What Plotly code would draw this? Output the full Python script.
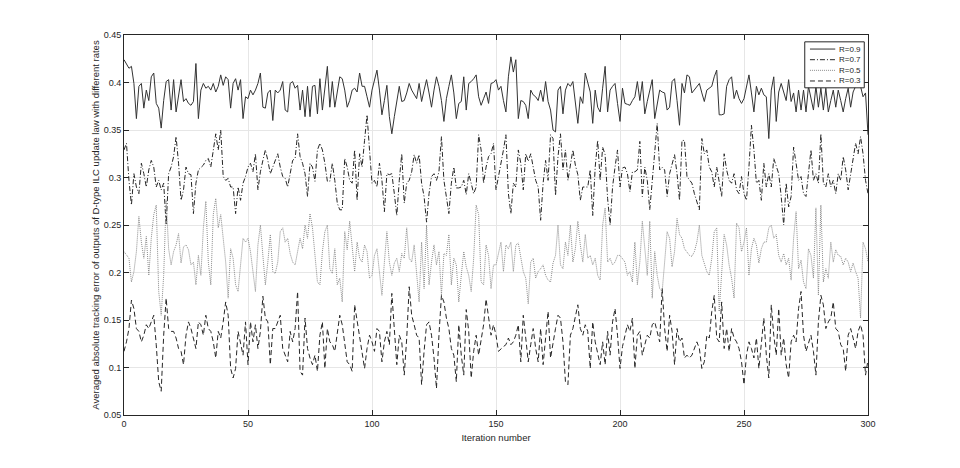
import plotly.graph_objects as go

# values, iterations 0..300
r09 = [
    0.424, 0.420, 0.415, 0.417, 0.399, 0.362, 0.396, 0.399, 0.373, 0.392,
    0.381, 0.406, 0.410, 0.378, 0.373, 0.352, 0.381, 0.401, 0.403, 0.371,
    0.403, 0.369, 0.385, 0.403, 0.380, 0.383, 0.378, 0.376, 0.380, 0.420,
    0.362, 0.392, 0.399, 0.394, 0.396, 0.392, 0.399, 0.390, 0.396, 0.408,
    0.397, 0.406, 0.403, 0.373, 0.399, 0.404, 0.392, 0.403, 0.362, 0.385,
    0.383, 0.392, 0.387, 0.392, 0.399, 0.410, 0.374, 0.373, 0.389, 0.392,
    0.360, 0.392, 0.389, 0.392, 0.401, 0.371, 0.369, 0.399, 0.401, 0.394,
    0.397, 0.371, 0.392, 0.364, 0.396, 0.364, 0.396, 0.397, 0.367, 0.404,
    0.371, 0.392, 0.417, 0.374, 0.401, 0.374, 0.392, 0.406, 0.404, 0.392,
    0.374, 0.381, 0.392, 0.394, 0.390, 0.410, 0.396, 0.396, 0.385, 0.374,
    0.392, 0.403, 0.413, 0.392, 0.366, 0.381, 0.397, 0.364, 0.346, 0.364,
    0.378, 0.396, 0.380, 0.381, 0.389, 0.399, 0.392, 0.387, 0.383, 0.399,
    0.380, 0.392, 0.403, 0.389, 0.374, 0.392, 0.406, 0.396, 0.381, 0.359,
    0.383, 0.396, 0.408, 0.389, 0.362, 0.378, 0.380, 0.406, 0.371, 0.399,
    0.401, 0.404, 0.408, 0.385, 0.376, 0.383, 0.390, 0.378, 0.399, 0.400,
    0.403, 0.392, 0.396, 0.381, 0.369, 0.406, 0.427, 0.411, 0.424, 0.362,
    0.381, 0.380, 0.376, 0.362, 0.392, 0.387, 0.385, 0.381, 0.392, 0.380,
    0.401, 0.380, 0.371, 0.350, 0.348, 0.392, 0.396, 0.367, 0.392, 0.399,
    0.396, 0.401, 0.378, 0.357, 0.385, 0.378, 0.410, 0.399, 0.390, 0.357,
    0.392, 0.374, 0.369, 0.394, 0.417, 0.369, 0.392, 0.396, 0.399, 0.378,
    0.359, 0.394, 0.378, 0.377, 0.376, 0.381, 0.385, 0.401, 0.381, 0.401,
    0.367, 0.380, 0.392, 0.403, 0.362, 0.378, 0.392, 0.390, 0.389, 0.371,
    0.374, 0.401, 0.404, 0.381, 0.355, 0.399, 0.389, 0.408, 0.406, 0.389,
    0.392, 0.396, 0.399, 0.389, 0.380, 0.392, 0.394, 0.396, 0.406, 0.413,
    0.366, 0.366, 0.367, 0.396, 0.403, 0.406, 0.383, 0.392, 0.383, 0.378,
    0.383, 0.396, 0.408, 0.389, 0.369, 0.396, 0.387, 0.394, 0.387, 0.385,
    0.341, 0.392, 0.406, 0.359, 0.390, 0.399, 0.389, 0.381, 0.403, 0.380,
    0.389, 0.369, 0.392, 0.371, 0.392, 0.369, 0.396, 0.383, 0.371, 0.396,
    0.374, 0.394, 0.371, 0.394, 0.369, 0.381, 0.392, 0.374, 0.392, 0.381,
    0.369, 0.383, 0.394, 0.374, 0.390, 0.396, 0.399, 0.396, 0.385, 0.389,
    0.345,
]

r07 = [
    0.329, 0.336, 0.297, 0.271, 0.304, 0.290, 0.283, 0.315, 0.304, 0.290,
    0.308, 0.318, 0.311, 0.290, 0.297, 0.287, 0.294, 0.250, 0.304, 0.311,
    0.322, 0.343, 0.315, 0.276, 0.287, 0.311, 0.304, 0.303, 0.262, 0.294,
    0.308, 0.311, 0.313, 0.318, 0.320, 0.311, 0.329, 0.346, 0.329, 0.350,
    0.301, 0.297, 0.299, 0.290, 0.290, 0.262, 0.290, 0.276, 0.294, 0.301,
    0.311, 0.315, 0.306, 0.325, 0.287, 0.306, 0.318, 0.329, 0.318, 0.304,
    0.311, 0.318, 0.325, 0.311, 0.301, 0.299, 0.290, 0.304, 0.318, 0.320,
    0.346, 0.322, 0.315, 0.304, 0.280, 0.315, 0.311, 0.296, 0.329, 0.336,
    0.329, 0.315, 0.296, 0.296, 0.315, 0.297, 0.273, 0.266, 0.266, 0.320,
    0.311, 0.297, 0.294, 0.329, 0.276, 0.325, 0.311, 0.339, 0.366, 0.329,
    0.294, 0.297, 0.290, 0.315, 0.297, 0.264, 0.304, 0.303, 0.304, 0.283,
    0.260, 0.297, 0.325, 0.273, 0.294, 0.297, 0.306, 0.324, 0.315, 0.324,
    0.294, 0.280, 0.253, 0.283, 0.301, 0.304, 0.297, 0.306, 0.343, 0.297,
    0.280, 0.262, 0.294, 0.311, 0.289, 0.289, 0.290, 0.297, 0.282, 0.304,
    0.294, 0.283, 0.290, 0.345, 0.329, 0.294, 0.311, 0.322, 0.325, 0.336,
    0.287, 0.301, 0.311, 0.329, 0.345, 0.283, 0.262, 0.294, 0.290, 0.329,
    0.315, 0.287, 0.325, 0.317, 0.325, 0.311, 0.297, 0.290, 0.255, 0.294,
    0.318, 0.297, 0.345, 0.341, 0.281, 0.322, 0.346, 0.308, 0.329, 0.297,
    0.313, 0.329, 0.313, 0.303, 0.276, 0.290, 0.290, 0.290, 0.308, 0.260,
    0.311, 0.339, 0.297, 0.332, 0.324, 0.278, 0.250, 0.290, 0.311, 0.329,
    0.290, 0.310, 0.311, 0.304, 0.285, 0.306, 0.306, 0.308, 0.338, 0.280,
    0.311, 0.297, 0.266, 0.294, 0.329, 0.357, 0.308, 0.311, 0.308, 0.280,
    0.304, 0.315, 0.324, 0.304, 0.276, 0.339, 0.339, 0.301, 0.297, 0.294,
    0.283, 0.273, 0.266, 0.341, 0.325, 0.329, 0.311, 0.306, 0.290, 0.311,
    0.297, 0.280, 0.325, 0.308, 0.297, 0.294, 0.304, 0.287, 0.283, 0.301,
    0.283, 0.276, 0.311, 0.355, 0.329, 0.294, 0.297, 0.276, 0.315, 0.290,
    0.304, 0.290, 0.320, 0.311, 0.304, 0.280, 0.250, 0.294, 0.269, 0.280,
    0.332, 0.315, 0.297, 0.301, 0.283, 0.280, 0.304, 0.329, 0.297, 0.304,
    0.294, 0.346, 0.294, 0.290, 0.304, 0.290, 0.297, 0.283, 0.304, 0.297,
    0.322, 0.308, 0.287, 0.304, 0.318, 0.336, 0.325, 0.343, 0.325, 0.297,
    0.283,
]

r05 = [
    0.222, 0.218, 0.215, 0.190, 0.201, 0.222, 0.259, 0.232, 0.215, 0.238,
    0.197, 0.236, 0.261, 0.271, 0.180, 0.155, 0.197, 0.276, 0.225, 0.208,
    0.222, 0.229, 0.241, 0.210, 0.227, 0.229, 0.224, 0.208, 0.211, 0.187,
    0.218, 0.197, 0.247, 0.275, 0.211, 0.187, 0.261, 0.278, 0.247, 0.261,
    0.236, 0.211, 0.173, 0.225, 0.215, 0.187, 0.180, 0.211, 0.236, 0.232,
    0.236, 0.222, 0.201, 0.180, 0.229, 0.250, 0.218, 0.187, 0.211, 0.240,
    0.201, 0.199, 0.211, 0.243, 0.247, 0.232, 0.236, 0.220, 0.211, 0.208,
    0.222, 0.236, 0.225, 0.250, 0.236, 0.262, 0.247, 0.215, 0.190, 0.187,
    0.222, 0.243, 0.250, 0.204, 0.199, 0.225, 0.187, 0.194, 0.169, 0.243,
    0.224, 0.254, 0.229, 0.201, 0.232, 0.215, 0.211, 0.229, 0.222, 0.194,
    0.197, 0.218, 0.225, 0.197, 0.176, 0.211, 0.243, 0.211, 0.197, 0.210,
    0.215, 0.201, 0.220, 0.215, 0.247, 0.215, 0.211, 0.229, 0.201, 0.169,
    0.232, 0.183, 0.250, 0.187, 0.211, 0.229, 0.208, 0.222, 0.176, 0.220,
    0.218, 0.240, 0.187, 0.215, 0.208, 0.169, 0.197, 0.222, 0.206, 0.197,
    0.180, 0.215, 0.271, 0.261, 0.190, 0.187, 0.229, 0.218, 0.183, 0.208,
    0.208, 0.222, 0.232, 0.201, 0.229, 0.225, 0.232, 0.201, 0.229, 0.231,
    0.215, 0.201, 0.194, 0.167, 0.211, 0.215, 0.194, 0.201, 0.204, 0.208,
    0.197, 0.192, 0.190, 0.210, 0.218, 0.250, 0.208, 0.204, 0.232, 0.218,
    0.250, 0.211, 0.225, 0.254, 0.229, 0.211, 0.240, 0.215, 0.218, 0.208,
    0.215, 0.197, 0.192, 0.250, 0.268, 0.211, 0.215, 0.208, 0.211, 0.218,
    0.218, 0.215, 0.211, 0.197, 0.201, 0.190, 0.232, 0.187, 0.211, 0.254,
    0.222, 0.197, 0.254, 0.173, 0.222, 0.197, 0.183, 0.180, 0.211, 0.243,
    0.236, 0.206, 0.222, 0.257, 0.240, 0.236, 0.225, 0.222, 0.218, 0.217,
    0.222, 0.232, 0.250, 0.218, 0.208, 0.201, 0.197, 0.215, 0.243, 0.247,
    0.159, 0.201, 0.240, 0.229, 0.208, 0.194, 0.173, 0.252, 0.247, 0.222,
    0.232, 0.247, 0.197, 0.225, 0.236, 0.229, 0.210, 0.225, 0.232, 0.232,
    0.247, 0.250, 0.236, 0.240, 0.218, 0.211, 0.220, 0.208, 0.215, 0.192,
    0.236, 0.264, 0.204, 0.213, 0.190, 0.183, 0.225, 0.218, 0.194, 0.268,
    0.176, 0.271, 0.190, 0.204, 0.194, 0.232, 0.211, 0.224, 0.218, 0.217,
    0.208, 0.215, 0.211, 0.201, 0.210, 0.201, 0.194, 0.152, 0.232, 0.225,
    0.211,
]

r03 = [
    0.117, 0.127, 0.141, 0.171, 0.162, 0.141, 0.138, 0.127, 0.134, 0.145,
    0.141, 0.148, 0.155, 0.124, 0.085, 0.075, 0.134, 0.173, 0.141, 0.138,
    0.138, 0.131, 0.120, 0.117, 0.103, 0.134, 0.148, 0.141, 0.131, 0.120,
    0.148, 0.145, 0.134, 0.155, 0.141, 0.138, 0.127, 0.110, 0.138, 0.131,
    0.148, 0.169, 0.155, 0.099, 0.089, 0.099, 0.138, 0.127, 0.113, 0.148,
    0.103, 0.148, 0.127, 0.145, 0.120, 0.138, 0.175, 0.152, 0.148, 0.103,
    0.141, 0.141, 0.148, 0.155, 0.120, 0.113, 0.106, 0.138, 0.127, 0.141,
    0.180, 0.096, 0.092, 0.152, 0.120, 0.110, 0.103, 0.113, 0.096, 0.134,
    0.148, 0.099, 0.141, 0.127, 0.124, 0.117, 0.134, 0.155, 0.145, 0.124,
    0.106, 0.103, 0.096, 0.166, 0.148, 0.131, 0.117, 0.099, 0.120, 0.134,
    0.127, 0.117, 0.141, 0.138, 0.106, 0.127, 0.138, 0.124, 0.178, 0.145,
    0.103, 0.134, 0.127, 0.092, 0.131, 0.185, 0.155, 0.145, 0.134, 0.131,
    0.082, 0.117, 0.145, 0.148, 0.134, 0.110, 0.078, 0.134, 0.176, 0.169,
    0.152, 0.141, 0.120, 0.113, 0.085, 0.145, 0.113, 0.092, 0.161, 0.138,
    0.089, 0.117, 0.134, 0.113, 0.131, 0.145, 0.172, 0.152, 0.134, 0.145,
    0.134, 0.117, 0.120, 0.122, 0.124, 0.131, 0.124, 0.127, 0.134, 0.145,
    0.106, 0.155, 0.131, 0.106, 0.124, 0.141, 0.120, 0.106, 0.141, 0.103,
    0.131, 0.159, 0.110, 0.127, 0.141, 0.155, 0.152, 0.127, 0.085, 0.082,
    0.134, 0.141, 0.155, 0.166, 0.141, 0.134, 0.145, 0.138, 0.099, 0.148,
    0.127, 0.113, 0.103, 0.127, 0.103, 0.138, 0.113, 0.148, 0.162, 0.134,
    0.099, 0.122, 0.134, 0.145, 0.138, 0.152, 0.099, 0.134, 0.138, 0.113,
    0.124, 0.134, 0.131, 0.145, 0.148, 0.138, 0.127, 0.183, 0.141, 0.117,
    0.155, 0.138, 0.103, 0.141, 0.127, 0.131, 0.110, 0.113, 0.110, 0.113,
    0.120, 0.127, 0.120, 0.099, 0.106, 0.134, 0.131, 0.159, 0.176, 0.131,
    0.127, 0.169, 0.120, 0.141, 0.117, 0.141, 0.131, 0.127, 0.120, 0.106,
    0.082, 0.113, 0.127, 0.120, 0.110, 0.131, 0.099, 0.127, 0.152, 0.113,
    0.089, 0.166, 0.134, 0.113, 0.162, 0.113, 0.131, 0.103, 0.089, 0.127,
    0.134, 0.127, 0.162, 0.180, 0.134, 0.117, 0.127, 0.134, 0.117, 0.092,
    0.148, 0.176, 0.166, 0.141, 0.148, 0.152, 0.169, 0.141, 0.138, 0.124,
    0.120, 0.096, 0.134, 0.141, 0.131, 0.120, 0.138, 0.145, 0.134, 0.092,
    0.108,
]

series = [
    ("R=0.9", r09, "#333333", "solid"),
    ("R=0.7", r07, "#262626", "5px,2px,1px,2px"),
    ("R=0.5", r05, "#8c8c8c", "1px,1px"),
    ("R=0.3", r03, "#262626", "5px,3px"),
]

fig = go.Figure()
for name, vals, color, dash in series:
    fig.add_trace(go.Scatter(
        x=list(range(len(vals))),
        y=vals,
        mode="lines",
        name=name,
        line=dict(color=color, width=1, dash=dash),
        showlegend=False,
    ))

# compact MATLAB-style legend box drawn in paper coordinates
legend_box = dict(x0=0.915, x1=0.995, y0=0.861, y1=0.982)
legend_rows = [0.963, 0.935, 0.907, 0.879]
fig.add_shape(type="rect", xref="paper", yref="paper", **legend_box,
              line=dict(color="#262626", width=1), fillcolor="white", layer="above")
for (name, _, color, dash), ly in zip(series, legend_rows):
    fig.add_shape(type="line", xref="paper", yref="paper",
                  x0=0.922, x1=0.956, y0=ly, y1=ly, layer="above",
                  line=dict(color=color, width=1, dash=dash))
    fig.add_annotation(xref="paper", yref="paper", x=0.959, y=ly,
                       text=name, showarrow=False, xanchor="left", yanchor="middle",
                       font=dict(size=8, color="#262626"))

axis_style = dict(
    showline=True,
    linecolor="#262626",
    linewidth=1,
    mirror="ticks",
    ticks="inside",
    ticklen=5,
    tickcolor="#262626",
    showgrid=True,
    gridcolor="#e6e6e6",
    gridwidth=1,
    zeroline=False,
    automargin=False,
    tickfont=dict(size=9, color="#262626"),
)

# the page body adds an 8px offset, so margins are shifted to compensate
fig.update_layout(
    width=960,
    height=468,
    paper_bgcolor="white",
    plot_bgcolor="white",
    font=dict(family="Liberation Sans, Arial, sans-serif", size=10, color="#262626"),
    margin=dict(l=116, r=100, t=27, b=61),
)
fig.update_xaxes(range=[0, 300], dtick=50,
                 title=dict(text="Iteration number", font=dict(size=9.5), standoff=6),
                 **axis_style)
fig.update_yaxes(range=[0.05, 0.45], dtick=0.05,
                 title=dict(text="Averaged absolute tracking error of outputs of D-type ILC update law with different rates",
                            font=dict(size=9.5), standoff=2),
                 **axis_style)

fig.write_html("out.html")
